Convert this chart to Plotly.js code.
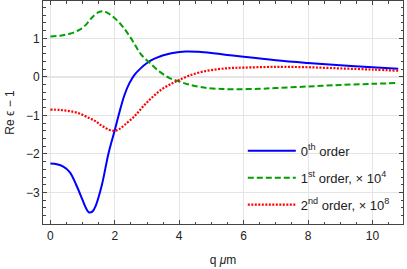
<!DOCTYPE html>
<html><head><meta charset="utf-8">
<script src="https://cdn.plot.ly/plotly-3.0.1.min.js"></script>
<style>html,body{margin:0;padding:0;background:#fff}#c{width:407px;height:269px}</style>
</head><body><div id="c"></div>
<script>
// 0th order
const q0 = [0,0.2,0.4,0.6,0.8,1.0,1.1,1.2,1.3,1.4,1.6,1.8,2.0,2.15,2.3,2.45,2.6,2.8,3.0,3.2,3.4,3.6,3.8,4.2,4.6,5.0,5.5,6,7,8,9,10,10.8];
const y0 = [-2.25,-2.27,-2.33,-2.47,-2.8,-3.2,-3.4,-3.52,-3.5,-3.36,-2.8,-2.0,-1.38,-0.9,-0.47,-0.17,0.04,0.22,0.36,0.46,0.53,0.58,0.62,0.66,0.65,0.62,0.57,0.52,0.43,0.36,0.3,0.25,0.21];
// 1st order x 1e4
const q1 = [0,0.3,0.6,0.9,1.1,1.3,1.5,1.65,1.8,2.0,2.2,2.4,2.6,2.8,3.1,3.4,3.7,4.0,4.3,4.7,5.2,5.8,6.5,7,8,9,10,10.8];
const y1 = [1.05,1.07,1.12,1.22,1.35,1.55,1.68,1.70,1.65,1.52,1.35,1.13,0.87,0.6,0.35,0.13,-0.03,-0.12,-0.2,-0.27,-0.31,-0.32,-0.31,-0.29,-0.25,-0.21,-0.18,-0.16];
// 2nd order x 1e8
const q2 = [0,0.3,0.6,0.9,1.2,1.4,1.6,1.84,2.0,2.15,2.3,2.6,2.9,3.2,3.5,3.8,4.0,4.3,4.7,5.2,5.6,6,7,8,9,10,10.8];
const y2 = [-0.85,-0.86,-0.89,-0.95,-1.07,-1.15,-1.27,-1.38,-1.40,-1.35,-1.25,-1.03,-0.75,-0.5,-0.3,-0.16,-0.08,0.03,0.13,0.2,0.23,0.24,0.26,0.25,0.22,0.19,0.16];

const xTicks = [0,2,4,6,8,10];
const yTicks = [-3,-2,-1,0,1];
const yTickText = ['\u22123','\u22122','\u22121','0','1'];
const names = ['0<sup>th</sup> order','1<sup>st</sup> order, \u00d7 10<sup>4</sup>','2<sup>nd</sup> order, \u00d7 10<sup>8</sup>'];

const traces = [
  {x:q0,y:y0,name:names[0],legendgroup:'a',mode:'lines',line:{color:'#0000ff',width:2,shape:'spline'}},
  {x:q1,y:y1,name:names[1],legendgroup:'b',mode:'lines',line:{color:'#00a000',width:2,dash:'6px,3px',shape:'spline'}},
  {x:q2,y:y2,name:names[2],legendgroup:'c',mode:'lines',line:{color:'#ff0000',width:2.2,dash:'2px,1.5px',shape:'spline'}}
];
const axisCommon = {showline:true,linecolor:'#444',linewidth:1,mirror:'allticks',ticks:'inside',ticklen:4,tickcolor:'#444',
  gridcolor:'#e4e4e4',gridwidth:1,zeroline:false,tickfont:{family:'Liberation Sans, Arial, sans-serif',size:12,color:'#222'}};
const layout = {
  width:407,height:269,margin:{l:43,r:4,t:1,b:45},paper_bgcolor:'#fff',plot_bgcolor:'#fff',
  font:{family:'Liberation Sans, Arial, sans-serif',size:12,color:'#222'},
  xaxis:Object.assign({},axisCommon,{range:[-0.23,10.95],tickvals:xTicks,ticklabelstandoff:1,
    minor:{ticks:'inside',dtick:0.5,tick0:0,ticklen:2.5,tickcolor:'#444',showgrid:false},
    title:{text:'q <i>\u03bc</i>m',font:{size:12},standoff:13}}),
  yaxis:Object.assign({},axisCommon,{range:[-3.82,1.97],tickvals:yTicks,ticktext:yTickText,
    minor:{ticks:'inside',dtick:0.2,tick0:0,ticklen:2.5,tickcolor:'#444',showgrid:false},
    title:{text:'Re \u03f5 \u2212 1',font:{size:12},standoff:8}}),
  shapes:[{type:'line',xref:'paper',x0:0,x1:1,yref:'y',y0:0,y1:0,line:{color:'#bbbbbb',width:1},layer:'below'}],
  showlegend:true,
  legend:{x:0.555,xanchor:'left',y:0.395,yanchor:'top',bgcolor:'rgba(0,0,0,0)',traceorder:'grouped',tracegroupgap:7,
    itemwidth:48,font:{size:13}}
};
Plotly.newPlot('c',traces,layout,{displayModeBar:false,staticPlot:true});
</script></body></html>
